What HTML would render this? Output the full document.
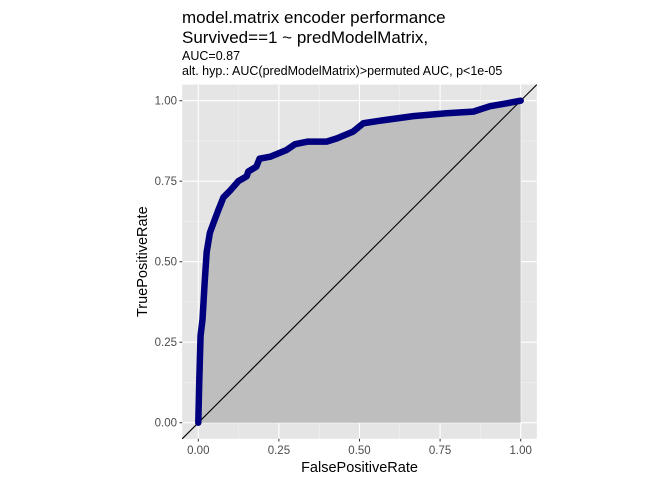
<!DOCTYPE html>
<html><head><meta charset="utf-8"><style>
body{margin:0;background:#fff}
svg text{font-family:"Liberation Sans",Arial,sans-serif}
</style></head><body>
<svg width="672" height="480" viewBox="0 0 672 480" xmlns="http://www.w3.org/2000/svg">
<text x="182" y="23" font-size="17" fill="#000">model.matrix encoder performance</text>
<text x="182" y="43" font-size="17" fill="#000">Survived==1 ~ predModelMatrix,</text>
<text x="182" y="60" font-size="12.5" fill="#000">AUC=0.87</text>
<text x="182" y="75" font-size="12.5" fill="#000">alt. hyp.: AUC(predModelMatrix)&gt;permuted AUC, p&lt;1e-05</text>
<rect x="182.2" y="84.6" width="354.6" height="354.2" fill="#e5e5e5"/>
<g id="grid"></g>
<g id="marks"></g>
<g id="axes"></g>
<text x="359.5" y="472" font-size="14.5" text-anchor="middle" fill="#000">FalsePositiveRate</text>
<text transform="translate(147,261.7) rotate(-90)" font-size="14.5" text-anchor="middle" fill="#000">TruePositiveRate</text>
</svg>
<script>
const fpr=[0,0.003,0.007,0.013,0.02,0.026,0.036,0.047,0.062,0.078,0.098,0.124,0.15,0.155,0.18,0.19,0.223,0.274,0.30,0.34,0.398,0.43,0.48,0.512,0.564,0.667,0.77,0.853,0.905,0.957,1];
const tpr=[0,0.13,0.27,0.32,0.44,0.53,0.59,0.62,0.66,0.70,0.72,0.75,0.765,0.78,0.795,0.82,0.826,0.847,0.865,0.873,0.873,0.883,0.904,0.93,0.938,0.952,0.961,0.966,0.983,0.992,1];
const ticks=[0,0.25,0.5,0.75,1];
const tickLabels=["0.00","0.25","0.50","0.75","1.00"];
const minorTicks=[0.125,0.375,0.625,0.875];
const NS="http://www.w3.org/2000/svg";
const X=v=>198.3+v*322.4, Y=v=>422.7-v*322;
function mk(tag,attrs,parent){const e=document.createElementNS(NS,tag);for(const k in attrs)e.setAttribute(k,attrs[k]);document.getElementById(parent).appendChild(e);return e;}
minorTicks.forEach(t=>{
 let a=mk('line',{x1:X(t),x2:X(t),y1:84.6,y2:438.8,stroke:'#f2f2f2','stroke-width':0.6},'grid');
 
 let b=mk('line',{x1:182.2,x2:536.8,y1:Y(t),y2:Y(t),stroke:'#f2f2f2','stroke-width':0.6},'grid');
 
});
ticks.forEach((t,i)=>{
 let a=mk('line',{x1:X(t),x2:X(t),y1:84.6,y2:438.8,stroke:'#fff','stroke-width':1.1},'grid');
 
 let b=mk('line',{x1:182.2,x2:536.8,y1:Y(t),y2:Y(t),stroke:'#fff','stroke-width':1.1},'grid');
 
 let c=mk('line',{x1:X(t),x2:X(t),y1:438.8,y2:441.5,stroke:'#333','stroke-width':1},'axes');
 
 let d=mk('line',{x1:179.5,x2:182.2,y1:Y(t),y2:Y(t),stroke:'#333','stroke-width':1},'axes');
 
 let e=mk('text',{x:X(t),y:454,'font-size':11.5,'text-anchor':'middle',fill:'#4d4d4d'},'axes');e.textContent=tickLabels[i];
 
 let f=mk('text',{x:177,y:Y(t)+4,'font-size':11.5,'text-anchor':'end',fill:'#4d4d4d'},'axes');f.textContent=tickLabels[i];
 
});
let pts=fpr.map((v,i)=>X(v)+','+Y(tpr[i])).join(' ');
let area=mk('polygon',{points:pts+' '+X(1)+','+Y(0)+' '+X(0)+','+Y(0),fill:'#bebebe'},'marks');

let diag=mk('line',{x1:182.2,y1:438.8,x2:536.8,y2:84.6,stroke:'#000','stroke-width':1.1},'marks');

let curve=mk('polyline',{points:pts,fill:'none',stroke:'#00007f','stroke-width':6.5,'stroke-linejoin':'round','stroke-linecap':'round'},'marks');

</script>
</body></html>
